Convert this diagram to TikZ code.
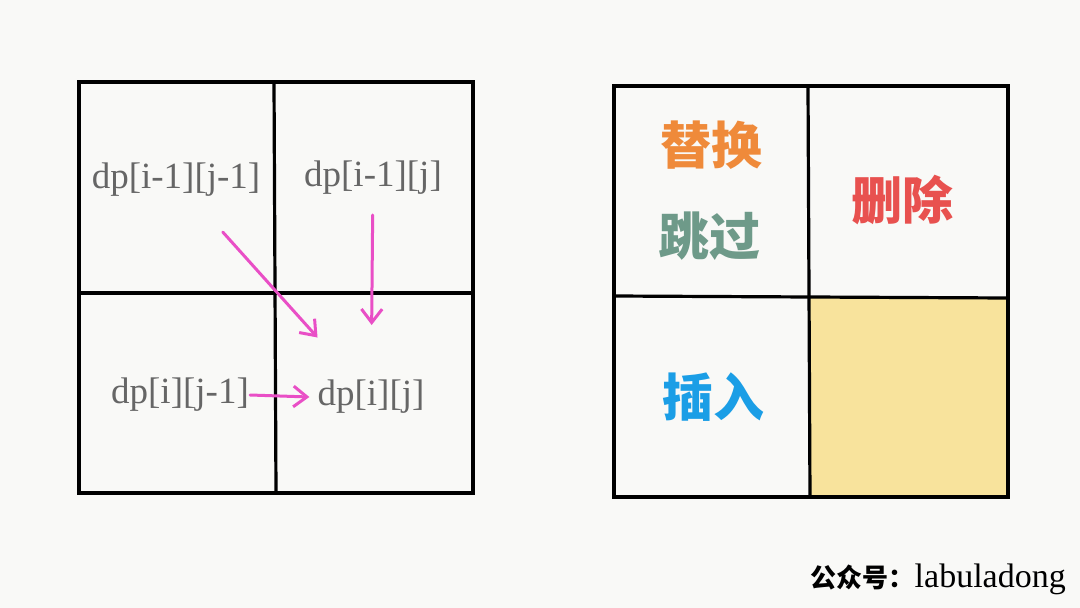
\documentclass[tikz,border=0pt]{standalone}
\usepackage{fontspec}
\setmainfont{Liberation Serif}
\newfontfamily\cjk{Noto Sans CJK SC}
\usetikzlibrary{arrows.meta, positioning}
\definecolor{paper}{HTML}{F9F9F7}
\definecolor{dpgray}{HTML}{666666}
\definecolor{pinkline}{HTML}{E94FC6}
\definecolor{cellyellow}{HTML}{F8E39C}
\definecolor{repcolor}{HTML}{EF8A3A}
\definecolor{skipcolor}{HTML}{6E9A89}
\definecolor{delcolor}{HTML}{E8514F}
\definecolor{inscolor}{HTML}{1B9EE6}
\tikzstyle{gridline} = [
  line width=3.2pt,
  draw=black
]
\tikzstyle{dptext} = [
  text=dpgray,
  font=\fontsize{37}{39}\selectfont,
  inner sep=0
]
\tikzstyle{optext} = [
  font=\cjk\bfseries\fontsize{51}{53}\selectfont,
  inner sep=0
]
\tikzstyle{arrow} = [
  line width=3pt,
  draw=pinkline,
  line cap=round,
  -{Straight Barb[angle=75:17pt]}
]

\begin{document}
\begin{tikzpicture}[x=1pt, y=-1pt]
      \useasboundingbox[fill=paper] (0,0) rectangle (1080,608);

      % left table
      \draw [gridline] (79,82) rectangle (473,493);
      \draw [gridline] (274,82) -- (276,493);
      \draw [gridline] (79,293) -- (473,293);

      \node [dptext] (dpul) at (176,180) {dp[i-1][j-1]};
      \node [dptext] (dpu) at (373,178) {dp[i-1][j]};
      \node [dptext] (dpl) at (180,395) {dp[i][j-1]};
      \node [dptext] (dpij) at (371,397) {dp[i][j]};

      \draw [arrow, shorten <=70pt, shorten >=80pt] (dpul.center) -- (dpij.center);
      \draw [arrow, shorten <=37pt, shorten >=72pt] (dpu.center) -- (dpij.center);
      \draw [arrow] ([xshift=1pt]dpl.east) -- ([xshift=-8pt]dpij.west);

      % right table
      \fill [cellyellow] (810,297) rectangle (1008,497);
      \draw [gridline] (614,86) rectangle (1008,497);
      \draw [gridline] (808,86) -- (810,497);
      \draw [gridline] (614,296) -- (1008,298);

      \node [optext, text=repcolor] (replace) at (711,145) {替换};
      \node [optext, text=skipcolor] (skip) at (709,236) {跳过};
      \node [optext, text=delcolor] (delete) at (902,200) {删除};
      \node [optext, text=inscolor] (insert) at (713,397) {插入};

      % signature
      \node [anchor=east, inner sep=0] (sign) at (1066,579)
        {{\cjk\bfseries\fontsize{26}{28}\selectfont 公众号：}{\fontsize{34}{36}\selectfont labuladong}};

    \end{tikzpicture}
\end{document}
